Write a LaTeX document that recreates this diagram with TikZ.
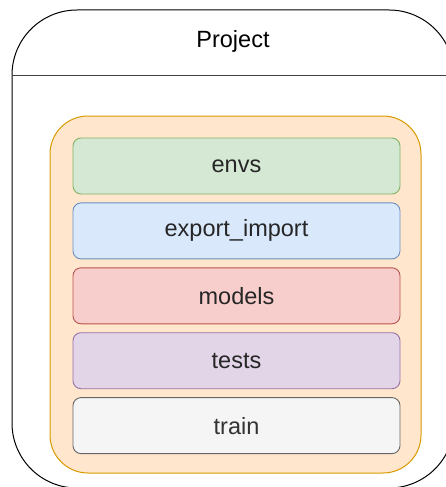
\documentclass[tikz,border=0pt]{standalone}
\usepackage{fontspec}
\setmainfont{Liberation Sans}
\usetikzlibrary{positioning}
\definecolor{envsfill}{HTML}{D5E8D4}\definecolor{envsline}{HTML}{82B366}
\definecolor{expfill}{HTML}{DAE8FC}\definecolor{expline}{HTML}{6C8EBF}
\definecolor{modfill}{HTML}{F8CECC}\definecolor{modline}{HTML}{B85450}
\definecolor{testfill}{HTML}{E1D5E7}\definecolor{testline}{HTML}{9673A6}
\definecolor{trainfill}{HTML}{F5F5F5}\definecolor{trainline}{HTML}{666666}
\definecolor{traintext}{HTML}{333333}
\definecolor{pkgfill}{HTML}{FFE6CC}\definecolor{pkgline}{HTML}{D79B00}
\tikzset{
  module/.style={draw, rounded corners=8pt, line width=0.9pt, minimum width=327pt,
    minimum height=56pt, inner sep=0pt, font=\fontsize{23.5}{28}\selectfont, text=black!85}
}
\begin{document}
\begin{tikzpicture}[x=1pt,y=-1pt]
    \useasboundingbox (0,0) rectangle (446,487);
    % project frame
    \draw[line width=1pt, rounded corners=65pt] (12,10) rectangle (454,488);
    \draw[line width=1.2pt, black!75] (12,75.5) -- (454,75.5);
    \node (project) at (233,41) {\fontsize{23.5}{28}\selectfont Project};
    % package
    \draw[pkgline, fill=pkgfill, line width=1pt, rounded corners=38pt] (50,116) rectangle (421,473);
    \node[module, fill=envsfill, draw=envsline] (envs) at (236.5,166) {envs};
    \node[module, fill=expfill, draw=expline, below=8pt of envs] (export) {export\_import};
    \node[module, fill=modfill, draw=modline, below=8pt of export] (models) {models};
    \node[module, fill=testfill, draw=testline, below=8pt of models] (tests) {tests};
    \node[module, fill=trainfill, draw=trainline, text=traintext, below=8pt of tests] (train) {train};
\end{tikzpicture}
\end{document}
